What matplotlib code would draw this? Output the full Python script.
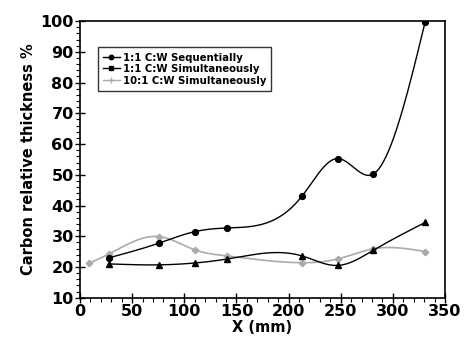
import numpy as np
import matplotlib
matplotlib.use("Agg")
import matplotlib.pyplot as plt
from matplotlib.ticker import MultipleLocator
from matplotlib.lines import Line2D

x_seq = [28, 76, 110, 141, 213, 247, 281, 331]
y_seq = [23.0, 27.8, 31.5, 32.7, 43.1, 55.3, 50.2, 99.8]

x_sim = [28, 76, 110, 141, 213, 247, 281, 331]
y_sim = [21.0, 20.7, 21.3, 22.6, 23.6, 20.5, 25.4, 34.5]

x_10 = [9, 28, 76, 110, 141, 213, 247, 281, 331]
y_10 = [21.2, 24.3, 29.9, 25.6, 23.6, 21.4, 22.6, 25.9, 25.0]

labels = ["1:1 C:W Sequentially", "1:1 C:W Simultaneously", "10:1 C:W Simultaneously"]


def natural_spline(x, y, n=400):
    x = np.asarray(x, float)
    y = np.asarray(y, float)
    k = len(x)
    h = np.diff(x)
    A = np.zeros((k, k))
    b = np.zeros(k)
    A[0, 0] = 1
    A[-1, -1] = 1
    for i in range(1, k - 1):
        A[i, i - 1] = h[i - 1]
        A[i, i] = 2 * (h[i - 1] + h[i])
        A[i, i + 1] = h[i]
        b[i] = 6 * ((y[i + 1] - y[i]) / h[i] - (y[i] - y[i - 1]) / h[i - 1])
    M = np.linalg.solve(A, b)
    xs = np.linspace(x[0], x[-1], n)
    idx = np.clip(np.searchsorted(x, xs) - 1, 0, k - 2)
    x0, x1 = x[idx], x[idx + 1]
    hh = x1 - x0
    t0 = x1 - xs
    t1 = xs - x0
    ys = (M[idx] * t0**3 / (6 * hh) + M[idx + 1] * t1**3 / (6 * hh)
          + (y[idx] / hh - M[idx] * hh / 6) * t0
          + (y[idx + 1] / hh - M[idx + 1] * hh / 6) * t1)
    return xs, ys


fig = plt.figure(figsize=(4.65, 3.47), dpi=100)
ax = fig.add_axes([0.172, 0.142, 0.785, 0.797])

gray = "#ababab"
xs, ys = natural_spline(x_10, y_10)
ax.plot(xs, ys, color=gray, lw=1.2)
ax.plot(x_10, y_10, ls="none", marker="D", ms=3.3, color=gray)

xs, ys = natural_spline(x_sim, y_sim)
ax.plot(xs, ys, color="black", lw=1.0)
ax.plot(x_sim, y_sim, ls="none", marker="^", ms=4.2, color="black")

xs, ys = natural_spline(x_seq, y_seq)
ax.plot(xs, ys, color="black", lw=1.0)
ax.plot(x_seq, y_seq, ls="none", marker="o", ms=4.2, color="black")

ax.set_xlim(0, 350)
ax.set_ylim(10, 100)
ax.xaxis.set_major_locator(MultipleLocator(50))
ax.xaxis.set_minor_locator(MultipleLocator(10))
ax.yaxis.set_major_locator(MultipleLocator(10))
ax.yaxis.set_minor_locator(MultipleLocator(2))
ax.tick_params(axis="both", which="major", direction="inout", length=7, width=1.0,
               labelsize=11.5, pad=1)
ax.tick_params(axis="both", which="minor", direction="out", length=3, width=0.8)
for lab in ax.get_xticklabels() + ax.get_yticklabels():
    lab.set_fontweight("bold")
for s in ax.spines.values():
    s.set_linewidth(1.2)

ax.set_xlabel("X (mm)", fontsize=10.5, fontweight="bold", labelpad=1)
ax.set_ylabel("Carbon relative thickness %", fontsize=10.5, fontweight="bold", labelpad=3)

handles = [
    Line2D([], [], color="black", marker="o", ms=3.2, lw=1.0),
    Line2D([], [], color="black", marker="s", ms=3.2, lw=1.0),
    Line2D([], [], color=gray, marker="+", ms=4, lw=1.0),
]
leg = ax.legend(handles, labels, loc="upper left", bbox_to_anchor=(0.05, 0.905),
                frameon=True, fancybox=False, edgecolor="black",
                prop={"weight": "bold", "size": 7.3}, handlelength=1.6,
                handletextpad=0.3, labelspacing=0.15, borderpad=0.5,
                borderaxespad=0)
leg.get_frame().set_linewidth(1.0)

fig.savefig("out.png", dpi=100)
